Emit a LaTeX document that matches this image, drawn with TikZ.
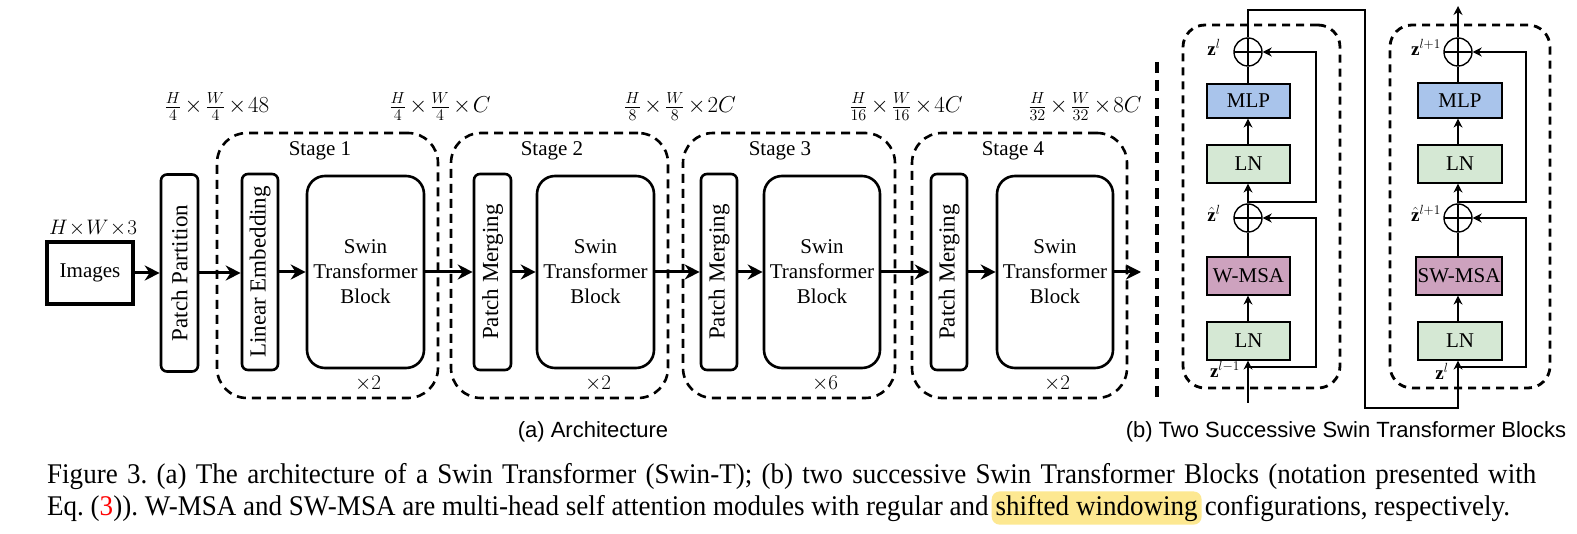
\RequirePackage{fix-cm}
\documentclass[tikz,border=0pt]{standalone}
\usepackage{fontspec}
\setmainfont{Liberation Serif}
\newfontfamily\sansf{Liberation Sans}
\usepackage{graphicx}
\usetikzlibrary{arrows.meta}
\definecolor{mlpc}{RGB}{169,196,235}
\definecolor{lnc}{RGB}{213,232,212}
\definecolor{msac}{RGB}{205,162,190}
\definecolor{hlc}{RGB}{253,232,145}
\newcommand\fsz[2]{\fontsize{#1}{#2}\selectfont}
\newcommand\tx{\mkern-1.5mu\times\mkern-1.5mu}
\newlength\capwb
\frenchspacing
\begin{document}
\settowidth\capwb{\fsz{28.5}{32}Eq. (3)). W-MSA and SW-MSA are multi-head self attention modules with regular and shifted windowing configurations, respectively.}%
\pgfmathsetmacro\capsx{1462/\capwb}%
\pgfmathsetlengthmacro\capwl{1489/\capsx}%
\pgfmathsetlengthmacro\spw{7.125*\capsx-4}%
\begin{tikzpicture}[x=1pt,y=-1pt,
  box/.style={draw, line width=2.6pt, rounded corners=6pt, inner sep=0pt, align=center},
  vbox/.style={box, minimum width=37pt, minimum height=197pt, font=\fsz{23}{27}},
  swin/.style={draw, line width=2.6pt, rounded corners=18pt, inner sep=0pt, minimum width=117pt, minimum height=192pt, align=center, font=\fsz{21}{25}},
  stagebox/.style={draw, line width=2.6pt, dash pattern=on 9pt off 6pt, rounded corners=30pt, inner sep=0pt},
  bigarr/.style={line width=3pt, -{Stealth[length=15pt,width=15pt]}},
  lbl/.style={font=\fsz{21}{25}, inner sep=0pt},
  dimlbl/.style={font=\fsz{23}{27}, inner sep=0pt, anchor=base},
  thinl/.style={line width=1.4pt},
  tarr/.style={line width=1.4pt, -{Stealth[length=9pt,width=9pt]}},
  mbox/.style={draw, line width=1.2pt, inner sep=0pt, minimum width=83pt, minimum height=38pt, font=\fsz{21}{25}},
  oplus/.style={circle, draw, line width=1.4pt, minimum size=28pt, inner sep=0pt,
     path picture={\draw[line width=1.2pt] (path picture bounding box.north) -- (path picture bounding box.south)
       (path picture bounding box.west) -- (path picture bounding box.east);}},
  blockdash/.style={draw, line width=2.8pt, dash pattern=on 8pt off 6pt, rounded corners=22pt, inner sep=0pt},
  zlab/.style={font=\fsz{19}{22}, inner sep=0pt},
  captxt/.style={anchor=base west, inner sep=0pt}
]
\useasboundingbox[fill=white] (0,0) rectangle (1577,534);

% ---------------- (a) Architecture ----------------
\node[stagebox, minimum width=221pt, minimum height=265pt] (st1) at (327.5,265.5) {};
\node[stagebox, minimum width=217pt, minimum height=265pt] (st2) at (559.5,265.5) {};
\node[stagebox, minimum width=212pt, minimum height=265pt] (st3) at (789,265.5) {};
\node[stagebox, minimum width=215pt, minimum height=265pt] (st4) at (1019.5,265.5) {};

\node[lbl] (s1l) at (320,151) {Stage 1};
\node[lbl] (s2l) at (552,151) {Stage 2};
\node[lbl] (s3l) at (780,151) {Stage 3};
\node[lbl] (s4l) at (1013,151) {Stage 4};

\node[draw, line width=4pt, minimum width=86pt, minimum height=62pt, inner sep=0pt, font=\fsz{21}{25}] (img) at (90,273) {Images};
\node[vbox] (pp) at (179.5,273) {\rotatebox{90}{Patch Partition}};
\node[vbox, minimum width=36pt, minimum height=196pt] (le) at (260,272) {\rotatebox{90}{Linear Embedding}};
\node[swin] (sw1) at (365.5,272) {Swin\\Transformer\\Block};
\node[vbox, minimum height=196pt] (pm2) at (492.5,272) {\rotatebox{90}{Patch Merging}};
\node[swin] (sw2) at (595.5,272) {Swin\\Transformer\\Block};
\node[vbox, minimum width=36pt, minimum height=196pt] (pm3) at (719,272) {\rotatebox{90}{Patch Merging}};
\node[swin, minimum width=116pt] (sw3) at (822,272) {Swin\\Transformer\\Block};
\node[vbox, minimum width=36pt, minimum height=196pt] (pm4) at (949,272) {\rotatebox{90}{Patch Merging}};
\node[swin, minimum width=116pt] (sw4) at (1055,272) {Swin\\Transformer\\Block};
\coordinate (out) at (1141,272);

\node[lbl] (x1) at (368,384) {$\times 2$};
\node[lbl] (x2) at (598,384) {$\times 2$};
\node[lbl] (x3) at (825,384) {$\times 6$};
\node[lbl] (x4) at (1057,384) {$\times 2$};

\draw[bigarr] (img.east) -- (pp.west |- img.east);
\draw[bigarr] (pp.east) -- (le.west |- pp.east);
\draw[bigarr] (le.east) -- (sw1.west);
\draw[bigarr] (sw1.east) -- (pm2.west);
\draw[bigarr] (pm2.east) -- (sw2.west);
\draw[bigarr] (sw2.east) -- (pm3.west);
\draw[bigarr] (pm3.east) -- (sw3.west);
\draw[bigarr] (sw3.east) -- (pm4.west);
\draw[bigarr] (pm4.east) -- (sw4.west);
\draw[bigarr] (sw4.east) -- (out);

\node[lbl] (d0) at (93,228) {$H\!\times\! W\!\times\! 3$};
\node[dimlbl] (d1) at (217,113) {$\frac{H}{4}\tx\frac{W}{4}\tx\mkern-1mu 48$};
\node[dimlbl] (d2) at (440,113) {$\frac{H}{4}\tx\frac{W}{4}\tx\mkern-1mu C$};
\node[dimlbl] (d3) at (680,113) {$\frac{H}{8}\tx\frac{W}{8}\tx\mkern-1mu 2C$};
\node[dimlbl] (d4) at (906,113) {$\frac{H}{16}\tx\frac{W}{16}\tx\mkern-1mu 4C$};
\node[dimlbl] (d5) at (1085,113) {$\frac{H}{32}\tx\frac{W}{32}\tx\mkern-1mu 8C$};

% divider
\draw[line width=4.5pt, dash pattern=on 11pt off 7pt] (1157,62) -- (1157,402);

% ---------------- (b) Two successive blocks ----------------
\node[blockdash, minimum width=157pt, minimum height=363pt] (bk1) at (1261.5,206.5) {};
\node[blockdash, minimum width=160pt, minimum height=363pt] (bk2) at (1470,206.5) {};

% block 1
\node[oplus] (c1a) at (1248,52) {};
\node[mbox, fill=mlpc, minimum height=34pt] (mlpa) at (1248.5,101) {MLP};
\node[mbox, fill=lnc] (ln2a) at (1248.5,164) {LN};
\node[oplus] (c2a) at (1248,218) {};
\node[mbox, fill=msac] (msaa) at (1248.5,276) {W-MSA};
\node[mbox, fill=lnc] (ln1a) at (1248.5,341) {LN};
\coordinate (in1) at (1248,403);
\coordinate (ra1) at (1248,367);
\coordinate (ra2) at (1248,202);

\node[zlab] at (1214,47) {$\mathbf{z}^l$};
\node[zlab] at (1214,213) {$\hat{\mathbf{z}}^l$};
\node[zlab] at (1225,369) {$\mathbf{z}^{l-1}$};

\draw[tarr] (in1) -- (ln1a.south -| in1);
\draw[tarr] (ln1a.north -| in1) -- (msaa.south -| in1);
\draw[thinl] (msaa.north -| in1) -- (c2a.south);
\draw[tarr] (c2a.north) -- (ln2a.south -| in1);
\draw[tarr] (ln2a.north -| in1) -- (mlpa.south -| in1);
\draw[thinl] (mlpa.north -| in1) -- (c1a.south);
\draw[tarr] (ra1) -- ++(68,0) |- (c2a.east);
\draw[tarr] (ra2) -- ++(68,0) |- (c1a.east);

% block 2
\node[oplus] (c1b) at (1458,52) {};
\node[mbox, fill=mlpc, minimum width=84pt, minimum height=35pt] (mlpb) at (1460,100.5) {MLP};
\node[mbox, fill=lnc, minimum width=84pt] (ln2b) at (1460,164) {LN};
\node[oplus] (c2b) at (1458,218) {};
\node[mbox, fill=msac, minimum width=86pt] (msab) at (1459,276) {SW-MSA};
\node[mbox, fill=lnc, minimum width=84pt] (ln1b) at (1460,341) {LN};
\coordinate (ax2) at (1458,300);
\coordinate (rb1) at (1458,367);
\coordinate (rb2) at (1458,202);
\coordinate (out2) at (1458,6);
\coordinate (top1) at (1248,10);
\coordinate (loop) at (1365,408);

\node[zlab] at (1426,47) {$\mathbf{z}^{l+1}$};
\node[zlab] at (1426,213) {$\hat{\mathbf{z}}^{l+1}$};
\node[zlab] at (1442,371) {$\mathbf{z}^{l}$};

\draw[tarr] (c1a.north) -- (top1) -| (loop) -| (ln1b.south -| ax2);
\draw[tarr] (ln1b.north -| ax2) -- (msab.south -| ax2);
\draw[thinl] (msab.north -| ax2) -- (c2b.south);
\draw[tarr] (c2b.north) -- (ln2b.south -| ax2);
\draw[tarr] (ln2b.north -| ax2) -- (mlpb.south -| ax2);
\draw[thinl] (mlpb.north -| ax2) -- (c1b.south);
\draw[tarr] (rb1) -- ++(68,0) |- (c2b.east);
\draw[tarr] (rb2) -- ++(68,0) |- (c1b.east);
\draw[tarr] (c1b.north) -- (out2);

% ---------------- captions ----------------
\node[anchor=base, font=\sansf\fsz{22}{26}, inner sep=0pt] (capa) at (593,437.5) {(a) Architecture};
\node[anchor=base, font=\sansf\fsz{22}{26}, inner sep=0pt] (capb) at (1346,437.5) {(b) Two Successive Swin Transformer Blocks};

\node[captxt] (cap1) at (47,483) {\scalebox{\capsx}[1]{\makebox[\capwl][s]{\fsz{28.5}{32}Figure 3. (a) The architecture of a Swin Transformer (Swin-T); (b) two successive Swin Transformer Blocks (notation presented with}}};
\node[captxt] (cap2a) at (47,515) {\scalebox{\capsx}[1]{\fsz{28.5}{32}Eq. (\textcolor{red}{3})). W-MSA and SW-MSA are multi-head self attention modules with regular and}};
\node[anchor=base west, fill=hlc, rounded corners=8pt, inner xsep=4pt, inner ysep=3.5pt] (cap2b) at ([xshift=\spw]cap2a.base east) {\scalebox{\capsx}[1]{\fsz{28.5}{32}shifted windowing}};
\node[captxt] (cap2c) at ([xshift=\spw]cap2b.base east) {\scalebox{\capsx}[1]{\fsz{28.5}{32}configurations, respectively.}};
\end{tikzpicture}
\end{document}
